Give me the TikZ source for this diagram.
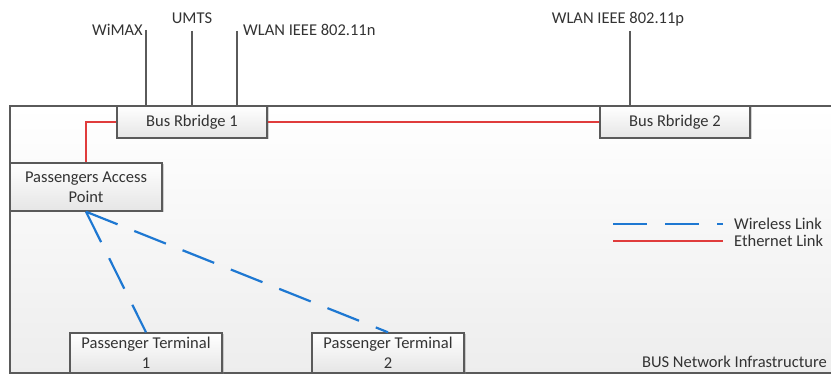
\documentclass[tikz,border=0pt]{standalone}
\usepackage{fontspec}
\setmainfont{Carlito}
\usetikzlibrary{shadows}
\definecolor{linegray}{HTML}{5A5A5A}
\definecolor{txtgray}{HTML}{333333}
\definecolor{wblue}{HTML}{1E78D2}
\definecolor{ered}{HTML}{E03C3C}
\begin{document}
\begin{tikzpicture}[x=1pt,y=-1pt,
  every node/.style={font=\fontsize{16.5}{20}\selectfont, text=txtgray},
  box/.style={draw=linegray, line width=1.4pt, top color=white, bottom color=black!10,
    drop shadow={opacity=0.35,shadow xshift=1.5pt,shadow yshift=-1.5pt},
    inner sep=0pt, align=center},
  ant/.style={draw=linegray, line width=1.3pt},
  eth/.style={draw=ered, line width=1.6pt},
  wl/.style={draw=wblue, line width=2.2pt, dash pattern=on 34pt off 18pt},
  lbl/.style={inner sep=0pt}]
\useasboundingbox (0,0) rectangle (831,374);
\begin{scope}
\clip (0,0) rectangle (831,374);
\fill[top color=white, bottom color=black!7] (10,106) rectangle (845,373);
\draw[linegray, line width=1.3pt] (845,106) -- (10,106) -- (10,373) -- (845,373);

% labels
\node[lbl, anchor=base east] (wimax) at (143,35.3) {WiMAX};
\node[lbl, anchor=base] (umts) at (192,23.3) {UMTS};
\node[lbl, anchor=base west] (wlann) at (243,35.3) {WLAN IEEE 802.11n};
\node[lbl, anchor=base] (wlanp) at (618,23.3) {WLAN IEEE 802.11p};

\coordinate (wimaxtop) at (146,30);
\coordinate (umtstop) at (192,31);
\coordinate (wlanntop) at (237,31);
\coordinate (wlanptop) at (630,31);

% boxes
\node[box, minimum width=150pt, minimum height=32pt] (rb1) at (192,122) {Bus Rbridge 1};
\node[box, minimum width=150pt, minimum height=32pt] (rb2) at (675,122) {Bus Rbridge 2};
\node[box, minimum width=152pt, minimum height=48pt] (ap) at (86,187) {Passengers Access\\Point};

% antenna lines
\draw[ant] (wimaxtop) -- (wimaxtop |- rb1.north);
\draw[ant] (umtstop) -- (umtstop |- rb1.north);
\draw[ant] (wlanntop) -- (wlanntop |- rb1.north);
\draw[ant] (wlanptop) -- (wlanptop |- rb2.north);

% ethernet
\draw[eth] (rb1.west) -- (ap.north |- rb1.west) -- (ap.north);
\draw[eth] (rb1.east) -- (rb2.west);

\node[box, minimum width=152pt, minimum height=40pt] (pt1) at (146,353) {Passenger Terminal\\1};
\node[box, minimum width=152pt, minimum height=40pt] (pt2) at (388,353) {Passenger Terminal\\2};

% wireless
\draw[wl] (ap.south) -- (pt1.north);
\draw[wl] (ap.south) -- (pt2.north);

% legend
\coordinate (wla) at (613,224);
\coordinate (wlb) at (723,224);
\coordinate (eta) at (613,241);
\coordinate (etb) at (723,241);
\draw[wl] (wla) -- (wlb);
\draw[eth] (eta) -- (etb);
\node[lbl, anchor=base west] (wltxt) at (734,229.3) {Wireless Link};
\node[lbl, anchor=base west] (ettxt) at (734,246.3) {Ethernet Link};

\node[lbl, anchor=base east] (infra) at (827,367.3) {BUS Network Infrastructure};
\end{scope}
\end{tikzpicture}
\end{document}
